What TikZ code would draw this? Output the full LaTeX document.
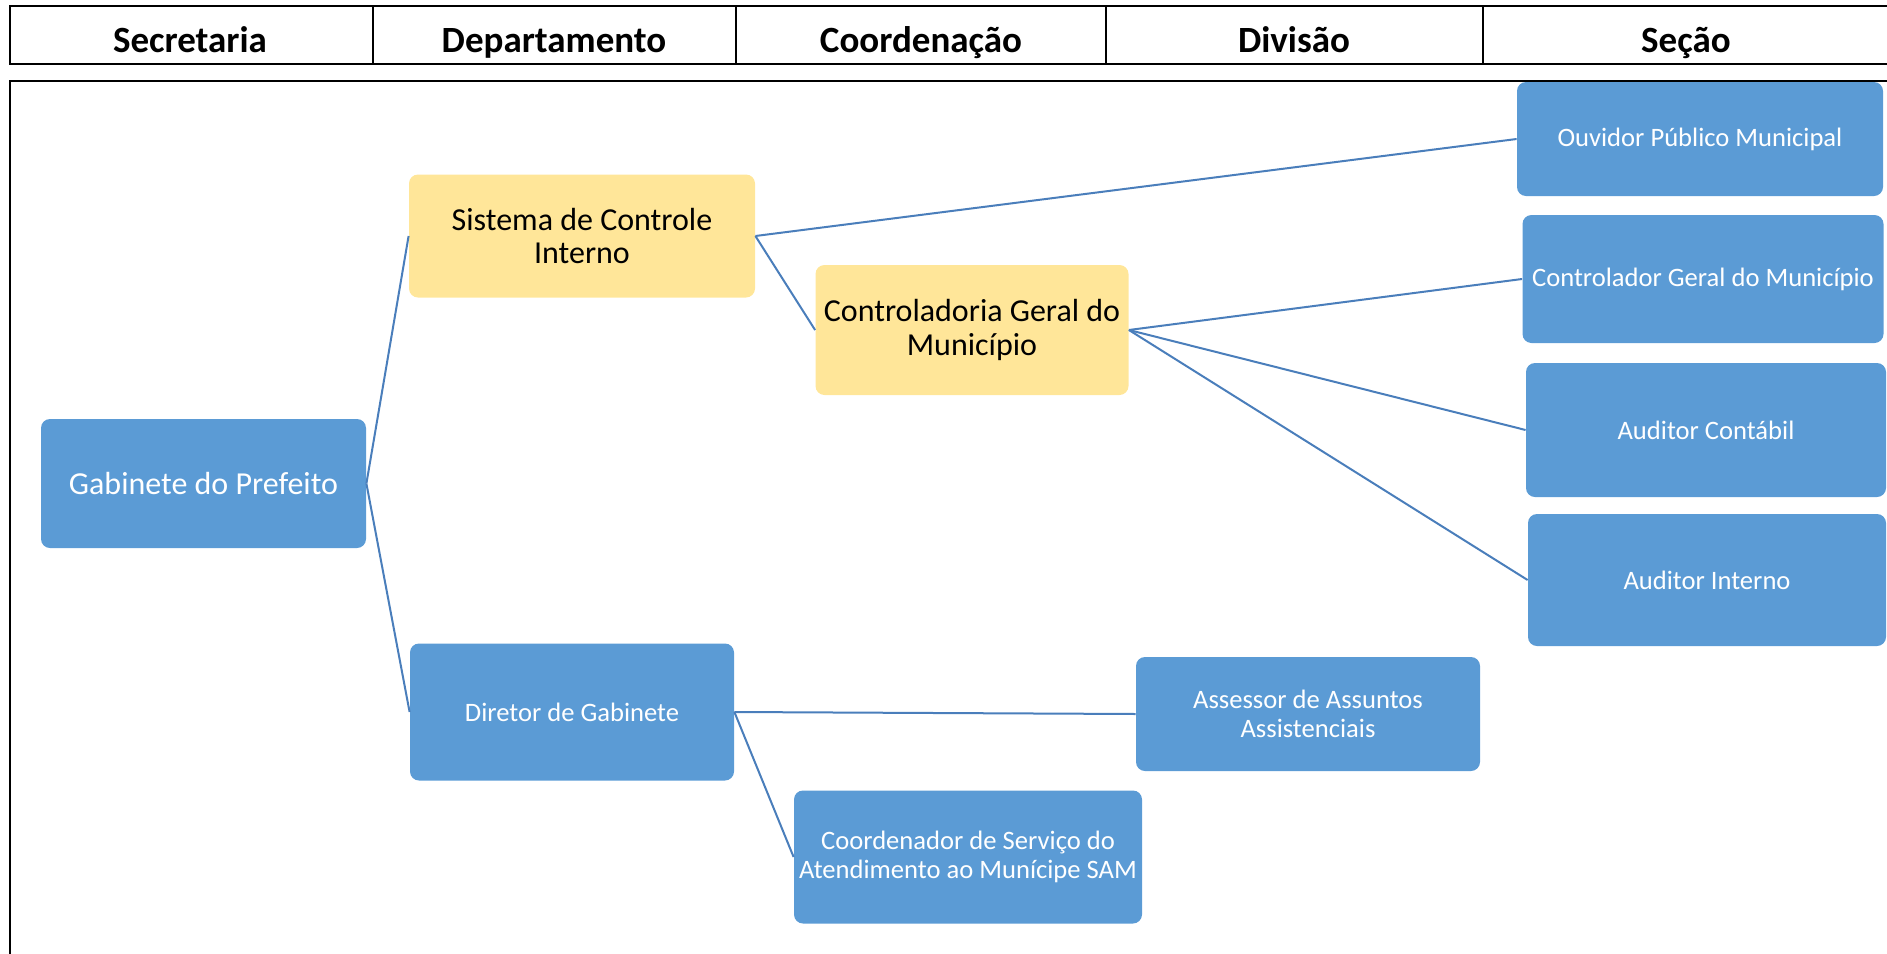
\documentclass[tikz,border=0pt]{standalone}
\usepackage{fontspec}
\setmainfont{Carlito}
\usetikzlibrary{positioning}
\definecolor{boxblue}{HTML}{5B9BD5}
\definecolor{boxyellow}{HTML}{FFE699}
\definecolor{linkblue}{HTML}{4A7EBB}

\begin{document}
\begin{tikzpicture}[x=0.5pt, y=-0.5pt]
 \tikzstyle{hcell}=[font=\fontsize{18.5}{22}\selectfont\bfseries, anchor=base, inner sep=0pt]
 \tikzstyle{bnode}=[rectangle, rounded corners=4.5pt, fill=boxblue, text=white, align=center, inner sep=0pt]
 \tikzstyle{ynode}=[bnode, fill=boxyellow, text=black]
 \tikzstyle{big}=[font=\fontsize{16}{17}\selectfont]
 \tikzstyle{small}=[font=\fontsize{13.3}{14.5}\selectfont]
 \tikzstyle{line}=[draw, color=linkblue, line width=1pt]
 \tikzstyle{frame}=[draw, line width=1.2pt]

 \useasboundingbox (0,0) rectangle (1887,954);

 \begin{scope}
  \clip (0,0) rectangle (1887,954);
  \path[frame] (10,6) rectangle (1900,64);
  \foreach \x in {373,736,1106,1483}
   \path[frame] (\x,6) -- (\x,64);
  \path[frame] (10,81) rectangle (1900,970);
 \end{scope}

 \node[hcell] (secretaria) at (190,52) {Secretaria};
 \node[hcell] (departamento) at (554,52) {Departamento};
 \node[hcell] (coordenacao) at (921,52) {Coordenação};
 \node[hcell] (divisao) at (1294,52) {Divisão};
 \node[hcell] (secao) at (1686,52) {Seção};

 \node[bnode, big, minimum width=162.5pt, minimum height=64.5pt] (gabinete) at (203.5,483.5) {Gabinete do Prefeito};
 \node[ynode, big, minimum width=173pt, minimum height=61.5pt] (sistema) at (582,236) {Sistema de Controle\\Interno};
 \node[ynode, big, minimum width=156.5pt, minimum height=65pt] (controladoria) at (972,330) {Controladoria Geral do\\Município};
 \node[bnode, small, minimum width=162pt, minimum height=68.5pt] (diretor) at (572,712) {Diretor de Gabinete};
 \node[bnode, small, minimum width=172pt, minimum height=57pt] (assessor) at (1308,714) {Assessor de Assuntos\\Assistenciais};
 \node[bnode, small, minimum width=174pt, minimum height=66.5pt] (sam) at (968,857) {Coordenador de Serviço do\\Atendimento ao Munícipe SAM};

 \node[bnode, small, minimum width=183pt, minimum height=57pt] (ouvidor) at (1700,139) {Ouvidor Público Municipal};
 \node[bnode, small, minimum width=180.5pt, minimum height=64pt] (controlador) at (1703,279) {Controlador Geral do Município};
 \node[bnode, small, minimum width=180pt, minimum height=67pt] (contabil) at (1706,430) {Auditor Contábil};
 \node[bnode, small, minimum width=179pt, minimum height=66pt] (interno) at (1707,580) {Auditor Interno};

 \path [line] (gabinete.east) -- (sistema.west);
 \path [line] (gabinete.east) -- (diretor.west);
 \path [line] (sistema.east) -- (ouvidor.west);
 \path [line] (sistema.east) -- (controladoria.west);
 \path [line] (controladoria.east) -- (controlador.west);
 \path [line] (controladoria.east) -- (contabil.west);
 \path [line] (controladoria.east) -- (interno.west);
 \path [line] (diretor.east) -- (assessor.west);
 \path [line] (diretor.east) -- (sam.west);

\end{tikzpicture}
\end{document}
